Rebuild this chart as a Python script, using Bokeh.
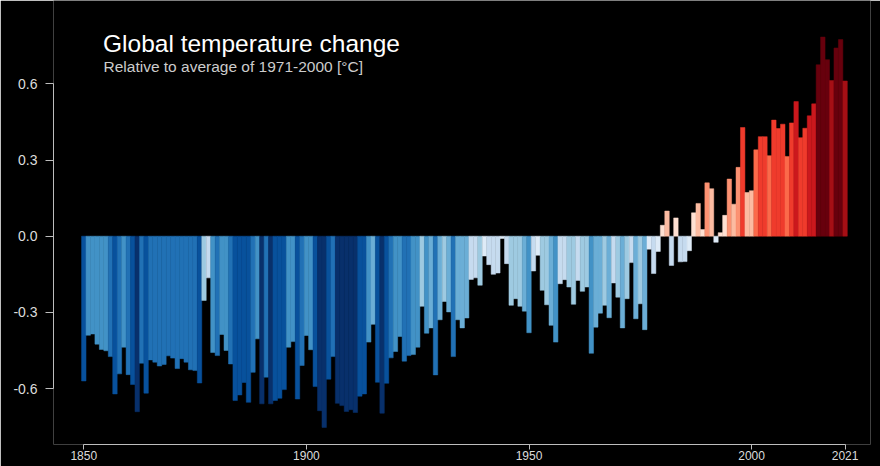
from bokeh.plotting import figure
from bokeh.models import (ColumnDataSource, LinearColorMapper, FixedTicker,
                          PrintfTickFormatter, Label, Range1d)
from bokeh.transform import transform
from bokeh.embed import file_html
from bokeh.resources import INLINE

# ---------------- data ----------------
years = list(range(1850, 2022))
anomaly = [
    # 1850-1859
    -0.570, -0.390, -0.385, -0.425, -0.446, -0.451, -0.474, -0.621, -0.542, -0.437,
    # 1860-1869
    -0.545, -0.584, -0.691, -0.500, -0.618, -0.487, -0.496, -0.511, -0.505, -0.471,
    # 1870-1879
    -0.480, -0.521, -0.482, -0.496, -0.526, -0.529, -0.578, -0.253, -0.164, -0.458,
    # 1880-1889
    -0.470, -0.387, -0.450, -0.503, -0.647, -0.625, -0.576, -0.654, -0.536, -0.404,
    # 1890-1899
    -0.660, -0.555, -0.660, -0.647, -0.638, -0.604, -0.437, -0.415, -0.641, -0.509,
    # 1900-1909
    -0.391, -0.447, -0.592, -0.687, -0.753, -0.563, -0.474, -0.658, -0.667, -0.690,
    # 1910-1919
    -0.683, -0.694, -0.630, -0.621, -0.417, -0.347, -0.575, -0.697, -0.579, -0.479,
    # 1920-1929
    -0.454, -0.395, -0.492, -0.470, -0.466, -0.437, -0.276, -0.382, -0.361, -0.546,
    # 1930-1939
    -0.329, -0.257, -0.298, -0.474, -0.329, -0.361, -0.322, -0.170, -0.164, -0.193,
    # 1940-1949
    -0.078, -0.112, -0.150, -0.145, -0.009, -0.108, -0.272, -0.246, -0.276, -0.295,
    # 1950-1959
    -0.380, -0.137, -0.075, -0.213, -0.270, -0.351, -0.417, -0.187, -0.171, -0.200,
    # 1960-1969
    -0.268, -0.174, -0.217, -0.200, -0.461, -0.358, -0.303, -0.272, -0.321, -0.184,
    # 1970-1979
    -0.240, -0.361, -0.246, -0.104, -0.325, -0.266, -0.368, -0.051, -0.147, -0.060,
    # 1980-1989
    0.043, 0.099, -0.115, 0.072, -0.101, -0.100, -0.057, 0.092, 0.129, 0.026,
    # 1990-1999
    0.210, 0.187, -0.024, 0.014, 0.082, 0.225, 0.126, 0.271, 0.428, 0.172,
    # 2000-2009
    0.179, 0.340, 0.392, 0.392, 0.317, 0.457, 0.424, 0.441, 0.314, 0.446,
    # 2010-2019
    0.530, 0.388, 0.425, 0.474, 0.521, 0.675, 0.784, 0.695, 0.613, 0.741,
    # 2020-2021
    0.774, 0.611,
]
y_ticks = [-0.6, -0.3, 0.0, 0.3, 0.6]
x_ticks = [1850, 1900, 1950, 2000, 2021]
title_text = "Global temperature change"
subtitle_text = "Relative to average of 1971-2000  [\u00b0C]"

stripe_palette = ["#08306b", "#08519c", "#2171b5", "#4292c6", "#6baed6", "#9ecae1",
                  "#c6dbef", "#deebf7", "#fee0d2", "#fcbba1", "#fc9272", "#fb6a4a",
                  "#ef3b2c", "#cb181d", "#a50f15", "#67000d"]

# ---------------- geometry ----------------
W, H = 880, 466
B_LEFT, B_RIGHT, B_TOP, B_BOTTOM = 53, 10, 0, 22
PAGE = 0
X_1850_PAGE = 83.3      # page x of year 1850
PX_PER_YEAR = 4.452
Y_ZERO_PAGE = 235.7     # page y of 0 degC
PX_PER_DEG = 254.0


def x_of_page(px):
    return 1850 + (px - X_1850_PAGE) / PX_PER_YEAR


def y_of_page(py):
    return (Y_ZERO_PAGE - py) / PX_PER_DEG


x_range = Range1d(x_of_page(PAGE + B_LEFT), x_of_page(PAGE + W - B_RIGHT))
y_range = Range1d(y_of_page(PAGE + H - B_BOTTOM), y_of_page(PAGE + B_TOP))

p = figure(width=W, height=H, x_range=x_range, y_range=y_range,
           output_backend="svg", toolbar_location=None,
           min_border_left=B_LEFT, min_border_right=B_RIGHT,
           min_border_top=B_TOP, min_border_bottom=B_BOTTOM)

p.background_fill_color = "black"
p.border_fill_color = "black"
p.outline_line_color = None
p.grid.visible = False

src = ColumnDataSource(dict(year=years, temp=anomaly))
mapper = LinearColorMapper(palette=stripe_palette, low=-0.75, high=0.75)

p.vbar(x="year", top="temp", bottom=0, width=1.0, source=src,
       fill_color=transform("temp", mapper),
       line_color=transform("temp", mapper), line_width=0.5)

FONT = "Liberation Sans"
AX_COL = "#bdbdbd"
LBL_COL = "#dcdcdc"

yax = p.yaxis[0]
yax.ticker = FixedTicker(ticks=y_ticks)
yax.formatter = PrintfTickFormatter(format="%.1f")
yax.bounds = (-0.6, 0.6)
yax.axis_line_color = AX_COL
yax.major_tick_line_color = AX_COL
yax.minor_tick_line_color = None
yax.major_tick_in = 0
yax.major_tick_out = 8
yax.major_label_standoff = 8
yax.major_label_text_color = LBL_COL
yax.major_label_text_font = FONT
yax.major_label_text_font_size = "14px"

xax = p.xaxis[0]
xax.ticker = FixedTicker(ticks=x_ticks)
xax.formatter = PrintfTickFormatter(format="%d")
xax.bounds = (1850, 2021)
xax.axis_line_color = AX_COL
xax.major_tick_line_color = AX_COL
xax.minor_tick_line_color = None
xax.major_tick_in = 0
xax.major_tick_out = 5
xax.major_label_standoff = 1
xax.major_label_text_color = LBL_COL
xax.major_label_text_font = FONT
xax.major_label_text_font_size = "12px"

p.add_layout(Label(x=x_of_page(102.5), y=y_of_page(42.7), text=title_text,
                   text_font=FONT, text_font_size="24.5px", text_color="white",
                   text_baseline="alphabetic", text_align="left"))
p.add_layout(Label(x=x_of_page(103), y=y_of_page(65.7), text=subtitle_text,
                   text_font=FONT, text_font_size="15.5px", text_color="#cccccc",
                   text_baseline="alphabetic", text_align="left"))

open("out.html", "w").write(file_html(p, INLINE))
